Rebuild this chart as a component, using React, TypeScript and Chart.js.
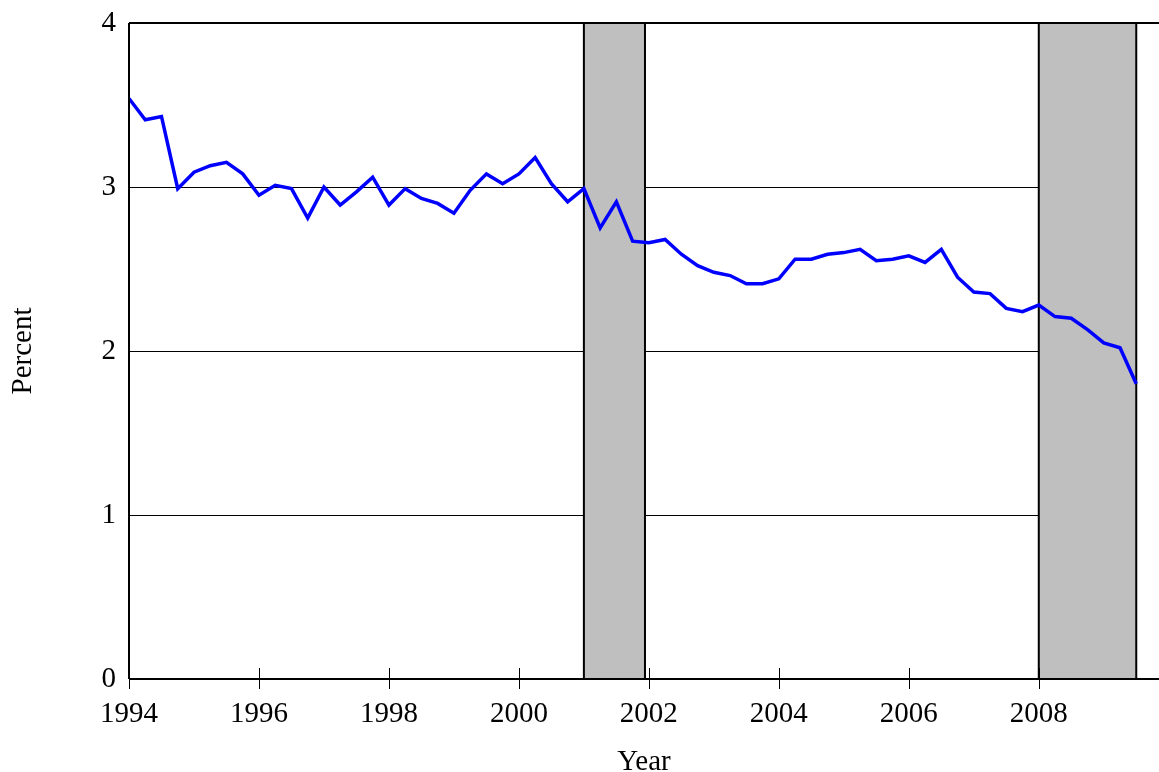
import React, { useEffect, useRef } from "react";
import { Chart, registerables } from "chart.js";

Chart.register(...registerables);

const startYear = 1994;
const quarterStep = 0.25;
const rates = [
  3.54, 3.41, 3.43, 2.99, 3.09, 3.13, 3.15, 3.08, 2.95, 3.01,
  2.99, 2.81, 3.0, 2.89, 2.97, 3.06, 2.89, 2.99, 2.93, 2.9,
  2.84, 2.98, 3.08, 3.02, 3.08, 3.18, 3.02, 2.91, 2.99, 2.75,
  2.91, 2.67, 2.66, 2.68, 2.59, 2.52, 2.48, 2.46, 2.41, 2.41,
  2.44, 2.56, 2.56, 2.59, 2.6, 2.62, 2.55, 2.56, 2.58, 2.54,
  2.62, 2.45, 2.36, 2.35, 2.26, 2.24, 2.28, 2.21, 2.2, 2.13,
  2.05, 2.02, 1.8,
];
const recessionStarts = [2001.0, 2008.0];
const recessionEnds = [2001.94, 2009.5];
const gridValues = [1, 2, 3];
const gridEnd = 2009.5;
const xMin = 1994;
const xMax = 2009.85;
const xStep = 2;
const yMin = 0;
const yMax = 4;
const yStep = 1;
const xTitle = "Year";
const yTitle = "Percent";

const FONT = "'Liberation Serif', 'DejaVu Serif', serif";

export default function App() {
  const ref = useRef<HTMLCanvasElement | null>(null);

  useEffect(() => {
    document.body.style.margin = "0";
    const canvas = ref.current!;
    const points = rates.map((v, i) => ({ x: startYear + i * quarterStep, y: v }));

    const bandsPlugin = {
      id: "bands",
      beforeDatasetsDraw(chart: any) {
        const { ctx, chartArea } = chart;
        const xs = chart.scales.x;
        const ys = chart.scales.y;
        ctx.save();
        ctx.strokeStyle = "#000";
        ctx.lineWidth = 1;
        ctx.beginPath();
        const gx = xs.getPixelForValue(gridEnd);
        for (const g of gridValues) {
          const py = Math.round(ys.getPixelForValue(g)) + 0.5;
          ctx.moveTo(chartArea.left, py);
          ctx.lineTo(gx, py);
        }
        ctx.stroke();
        for (let i = 0; i < recessionStarts.length; i++) {
          const l = xs.getPixelForValue(recessionStarts[i]);
          const r = xs.getPixelForValue(recessionEnds[i]);
          ctx.fillStyle = "#bfbfbf";
          ctx.fillRect(l, chartArea.top, r - l, chartArea.bottom - chartArea.top);
          ctx.strokeStyle = "#000";
          ctx.lineWidth = 2;
          ctx.beginPath();
          ctx.moveTo(l, chartArea.top);
          ctx.lineTo(l, chartArea.bottom);
          ctx.moveTo(r, chartArea.top);
          ctx.lineTo(r, chartArea.bottom);
          ctx.stroke();
        }
        ctx.restore();
      },
      afterDatasetsDraw(chart: any) {
        const { ctx, chartArea } = chart;
        const xs = chart.scales.x;
        ctx.save();
        ctx.strokeStyle = "#000";
        ctx.lineWidth = 2;
        ctx.beginPath();
        ctx.moveTo(chartArea.left, chartArea.top);
        ctx.lineTo(chartArea.right, chartArea.top);
        ctx.moveTo(chartArea.left, chartArea.top);
        ctx.lineTo(chartArea.left, chartArea.bottom);
        ctx.moveTo(chartArea.left, chartArea.bottom);
        ctx.lineTo(chartArea.right, chartArea.bottom);
        ctx.stroke();
        ctx.lineWidth = 1;
        ctx.beginPath();
        for (const t of xs.ticks) {
          const px = Math.round(xs.getPixelForValue(t.value)) + 0.5;
          ctx.moveTo(px, chartArea.bottom - 11);
          ctx.lineTo(px, chartArea.bottom + 10);
        }
        ctx.stroke();
        ctx.restore();
      },
    };

    const chart = new Chart(canvas, {
      type: "line",
      data: {
        datasets: [
          {
            data: points,
            borderColor: "#0000ff",
            borderWidth: 3.5,
            pointRadius: 0,
            tension: 0,
            fill: false,
          },
        ],
      },
      options: {
        animation: false,
        responsive: false,
        devicePixelRatio: 1,
        layout: { padding: { top: 23, right: 0, left: 0, bottom: 0 } },
        plugins: { legend: { display: false }, tooltip: { enabled: false } },
        scales: {
          x: {
            type: "linear",
            min: xMin,
            max: xMax,
            afterFit: (s: any) => {
              s.height = 93;
              s.paddingLeft = 0;
              s.paddingRight = 0;
            },
            grid: { display: false, drawTicks: false },
            border: { display: false },
            ticks: {
              stepSize: xStep,
              includeBounds: false,
              autoSkip: false,
              maxRotation: 0,
              padding: 18,
              color: "#000",
              font: { family: FONT, size: 29 },
              callback: (v: any) => String(v),
            },
            title: {
              display: true,
              text: xTitle,
              color: "#000",
              font: { family: FONT, size: 29 },
              padding: { top: 0, bottom: -8 },
            },
          },
          y: {
            min: yMin,
            max: yMax,
            afterFit: (s: any) => {
              s.width = 129;
              s.paddingTop = 0;
              s.paddingBottom = 0;
            },
            grid: { display: false, drawTicks: false },
            border: { display: false },
            ticks: {
              stepSize: yStep,
              padding: 13,
              color: "#000",
              font: { family: FONT, size: 29 },
              callback: (v: any) => String(v),
            },
            title: {
              display: true,
              text: yTitle,
              color: "#000",
              font: { family: FONT, size: 29 },
              padding: { top: 6, bottom: 0 },
            },
          },
        },
      },
      plugins: [bandsPlugin],
    });

    return () => chart.destroy();
  }, []);

  return (
    <div style={{ position: "absolute", left: 0, top: 0, width: 1159, height: 772, background: "#fff" }}>
      <canvas ref={ref} width={1159} height={772} />
    </div>
  );
}
